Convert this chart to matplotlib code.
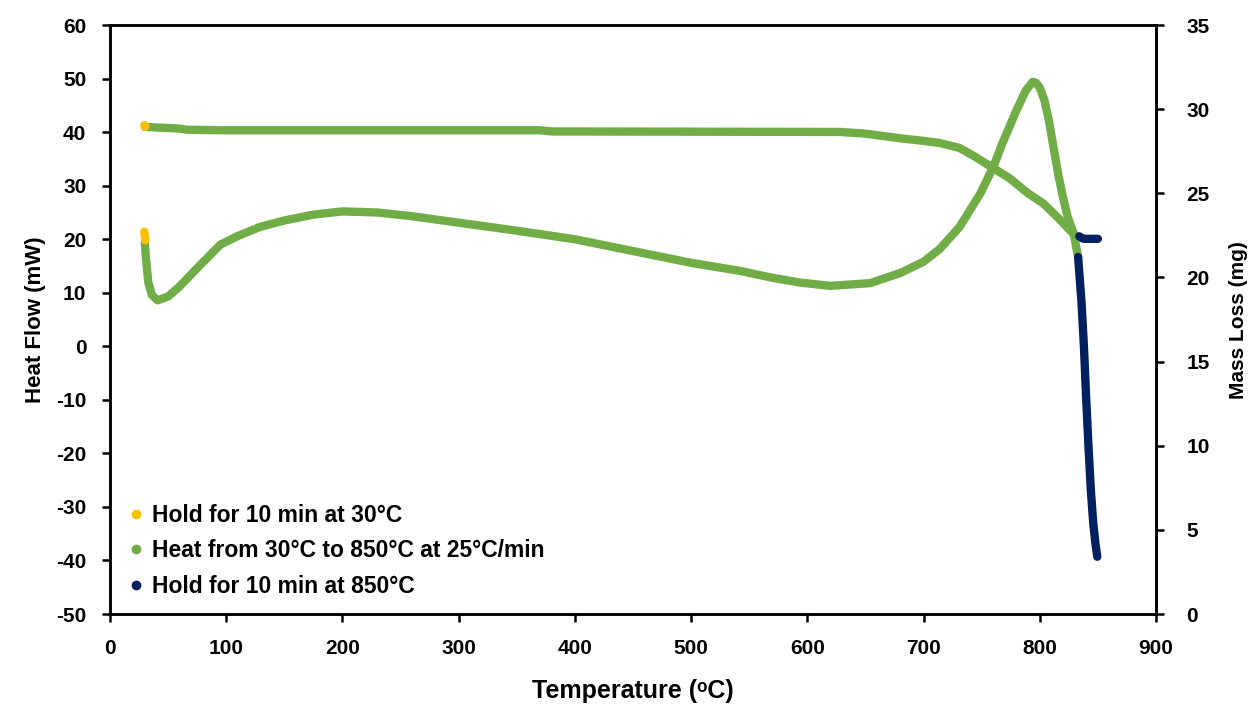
import matplotlib
matplotlib.use("Agg")
import matplotlib.pyplot as plt
from matplotlib.lines import Line2D

plt.rcParams["font.family"] = ["Liberation Sans", "DejaVu Sans"]
plt.rcParams["font.weight"] = "bold"
plt.rcParams["axes.unicode_minus"] = False

# Stage 1: hold for 10 min at 30 °C
hold30_temp = [29.5, 30.0, 30.5]
hold30_heat = [21.4, 20.6, 19.8]
hold30_mass = [29.05, 29.0, 28.97]

# Stage 2: heat from 30 °C to 850 °C at 25 °C/min
ramp_temp_heat = [30, 31, 33, 36, 41, 50, 60, 75, 95, 110, 129, 150, 175, 200,
                  230, 260, 300, 350, 400, 450, 500, 542, 570, 594, 620, 654,
                  680, 700, 714, 731, 749, 760, 768, 780, 788, 794, 797, 800,
                  804, 808, 812, 816, 820, 824, 829, 833]
ramp_heat = [19.3, 16.5, 12.0, 9.6, 8.6, 9.3, 11.2, 14.6, 19.0, 20.6, 22.3,
             23.5, 24.6, 25.2, 25.0, 24.3, 23.1, 21.6, 20.0, 17.8, 15.6, 14.1,
             12.8, 11.9, 11.3, 11.8, 13.7, 15.8, 18.2, 22.3, 28.6, 33.5, 38.0,
             44.1, 47.8, 49.4, 49.2, 48.3, 46.0, 42.0, 37.0, 32.0, 27.8, 24.2,
             21.2, 16.7]
ramp_temp_mass = [30, 60, 66, 100, 370, 380, 628, 650, 680, 700, 714, 731, 745,
                  760, 774, 790, 803, 815, 826, 830]
ramp_mass = [28.95, 28.85, 28.78, 28.75, 28.75, 28.68, 28.65, 28.55, 28.27,
             28.12, 27.99, 27.7, 27.15, 26.5, 25.9, 25.0, 24.4, 23.6, 22.8,
             22.55]

# Stage 3: hold for 10 min at 850 °C
hold850_temp_heat = [833, 836, 838, 840, 842, 844, 846, 848, 849.5]
hold850_heat = [16.7, 8.0, 0.0, -10.0, -19.0, -27.0, -33.0, -37.0, -39.3]
hold850_temp_mass = [834, 836, 838, 842, 846, 850]
hold850_mass = [22.45, 22.35, 22.3, 22.3, 22.3, 22.3]

stage_labels = ["Hold for 10 min at 30\u00b0C",
                "Heat from 30\u00b0C to 850\u00b0C at 25\u00b0C/min",
                "Hold for 10 min at 850\u00b0C"]
stage_colors = ["#FFC000", "#70AD47", "#002060"]

x_ticks = list(range(0, 901, 100))
heat_ticks = list(range(-50, 61, 10))
mass_ticks = list(range(0, 36, 5))

fig = plt.figure(figsize=(12.55, 7.07), dpi=100)
ax = fig.add_axes([0.0876, 0.1315, 0.8335, 0.833])
ax2 = ax.twinx()

lw = 6.0
kw = dict(lw=lw, solid_capstyle="round", solid_joinstyle="round")
ax.plot(ramp_temp_heat, ramp_heat, color=stage_colors[1], **kw)
ax2.plot(ramp_temp_mass, ramp_mass, color=stage_colors[1], **kw)
ax.plot(hold30_temp, hold30_heat, color=stage_colors[0], **kw)
ax2.plot(hold30_temp, hold30_mass, color=stage_colors[0], **kw)
ax.plot(hold850_temp_heat, hold850_heat, color=stage_colors[2], **kw)
ax2.plot(hold850_temp_mass, hold850_mass, color=stage_colors[2], **kw)

ax.set_xlim(0, 900)
ax.set_ylim(-50, 60)
ax2.set_ylim(0, 35)
ax.set_xticks(x_ticks)
ax.set_yticks(heat_ticks)
ax2.set_yticks(mass_ticks)

tick_fs = 15
for a in (ax, ax2):
    for s in a.spines.values():
        s.set_linewidth(1.8)
    a.tick_params(direction="out", length=6, width=1.8, labelsize=tick_fs,
                  pad=11)
ax.tick_params(axis="x", pad=12)
ax2.tick_params(axis="y", pad=16)
for lab in ax.get_xticklabels() + ax.get_yticklabels() + ax2.get_yticklabels():
    lab.set_fontweight("bold")

ax.set_xlabel("Temperature (\u1d52C)", fontsize=18, fontweight="bold", labelpad=15)
ax.set_ylabel("Heat Flow (mW)", fontsize=16, fontweight="bold", labelpad=7)
ax2.set_ylabel("Mass Loss (mg)", fontsize=15, fontweight="bold")
ax2.yaxis.set_label_coords(1.0695, 0.5)

handles = [Line2D([], [], ls="none", marker="o", markersize=6, color=c)
           for c in stage_colors]
ax.legend(handles, stage_labels, loc="lower left",
          bbox_to_anchor=(0.003, 0.0), frameon=False,
          prop={"size": 16.5, "weight": "bold"}, handlelength=0.6,
          handletextpad=0.4, labelspacing=0.55, borderaxespad=0.3)

fig.savefig("out.png", dpi=100)
